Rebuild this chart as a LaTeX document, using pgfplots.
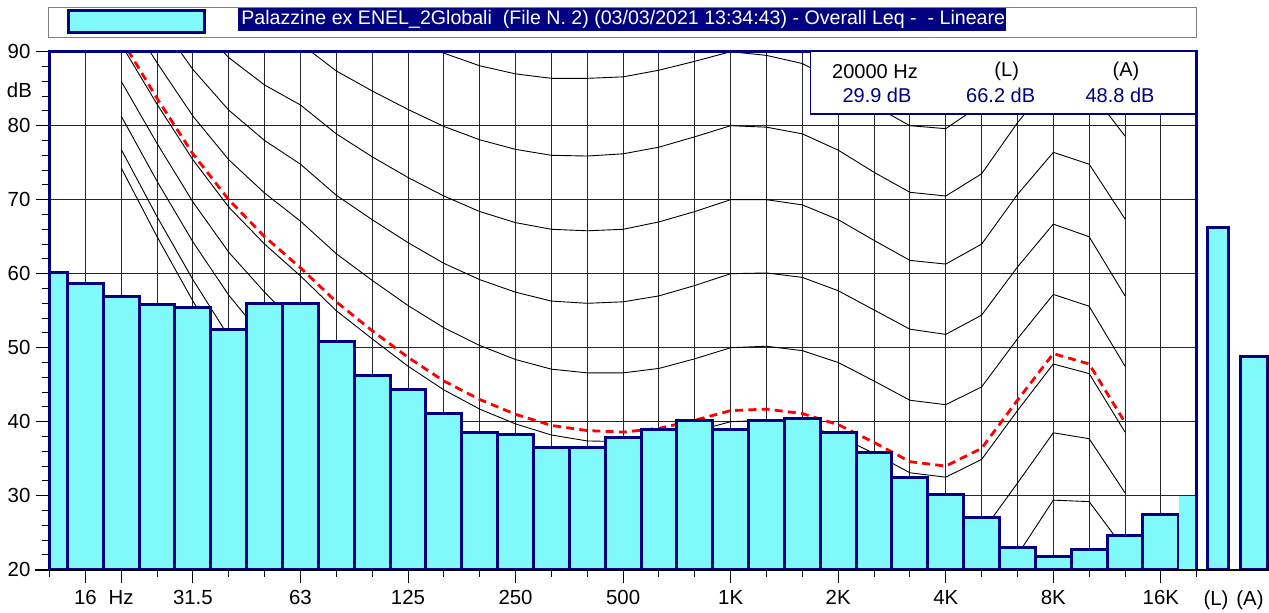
\documentclass[border=0pt]{standalone}
\usepackage{fontspec}
\setmainfont{Liberation Sans}
\usepackage{pgfplots}
\usepackage{pgfplotstable}
\pgfplotsset{compat=1.18}
\definecolor{navy}{RGB}{0,0,128}
\definecolor{barfill}{RGB}{128,250,250}
\definecolor{dashred}{RGB}{255,0,0}
\pgfplotstableread{
i maf p10 p20 p30 p40 red p50 p60 p70 p80 p90
2 74.3 76.8 81.3 86.0 91.0 91.7 96.2 101.7 107.6 113.7 120.3
3 65.0 67.7 72.5 77.6 82.9 83.7 88.5 94.4 100.7 107.3 114.4
4 56.3 59.2 64.3 69.7 75.4 76.2 81.3 87.6 94.3 101.3 108.7
5 48.4 51.5 57.1 62.9 69.0 70.0 75.4 82.1 89.2 96.6 104.4
6 41.7 45.1 51.2 57.5 64.0 65.0 70.9 78.0 85.5 93.3 101.5
7 35.5 39.2 45.8 52.6 59.7 60.8 67.1 74.8 82.8 91.1 99.8
8 29.8 33.7 40.5 47.7 55.0 56.2 62.7 70.6 78.9 87.4 96.3
9 25.1 29.1 36.2 43.5 51.2 52.3 59.1 67.3 75.8 84.7 94.0
10 20.7 24.8 32.1 39.7 47.5 48.7 55.7 64.2 73.0 82.2 91.8
11 16.8 21.0 28.5 36.2 44.3 45.5 52.7 61.4 70.5 79.9 89.8
12 13.8 18.1 25.7 33.5 41.7 43.0 50.3 59.2 68.4 78.1 88.1
13 11.2 15.6 23.3 31.4 39.7 41.0 48.4 57.5 66.9 76.8 87.0
14 8.9 13.4 21.4 29.6 38.2 39.5 47.1 56.3 66.0 76.0 86.4
15 7.2 11.9 20.1 28.6 37.4 38.8 46.6 56.0 65.8 75.9 86.4
16 6.0 10.9 19.4 28.2 37.3 38.6 46.6 56.2 66.0 76.2 86.6
17 5.0 10.1 19.1 28.3 37.7 39.1 47.2 57.0 67.0 77.1 87.5
18 4.4 9.9 19.4 29.0 38.7 40.2 48.5 58.4 68.4 78.5 88.7
19 4.2 10.0 20.0 30.0 40.0 41.5 50.0 60.0 70.0 80.0 90.0
20 3.7 9.7 19.9 30.1 40.2 41.7 50.2 60.1 70.0 79.8 89.5
21 2.6 8.7 19.2 29.5 39.6 41.1 49.6 59.5 69.3 78.9 88.4
22 1.0 7.2 17.7 28.0 38.1 39.6 48.0 57.7 67.3 76.7 85.9
23 -1.2 5.0 15.4 25.7 35.7 37.2 45.5 55.1 64.5 73.7 82.7
24 -3.6 2.6 13.0 23.2 33.1 34.6 42.9 52.5 61.8 71.0 80.0
25 -3.9 2.2 12.5 22.6 32.5 34.0 42.3 51.8 61.3 70.5 79.6
26 -1.1 4.8 15.0 25.0 34.9 36.4 44.7 54.4 64.0 73.5 82.9
27 6.6 12.2 22.0 31.7 41.5 42.9 51.2 60.9 70.7 80.4 90.1
28 15.3 20.4 29.4 38.5 47.8 49.2 57.2 66.7 76.4 86.3 96.4
29 16.4 21.0 29.2 37.7 46.5 47.8 55.6 65.0 74.8 84.9 95.5
30 11.6 15.5 22.7 30.4 38.6 39.9 47.5 57.0 67.4 78.6 90.9
}\iso
\pgfplotstableread{
i v
0 60.1
1 58.7
2 56.9
3 55.9
4 55.4
5 52.5
6 56.0
7 56.0
8 50.8
9 46.3
10 44.3
11 41.1
12 38.6
13 38.3
14 36.5
15 36.5
16 37.9
17 38.9
18 40.1
19 39.0
20 40.1
21 40.5
22 38.6
23 35.9
24 32.5
25 30.1
26 27.1
27 23.0
28 21.8
29 22.7
30 24.6
31 27.4
}\bars
\begin{document}
\begin{tikzpicture}
\fill[white] (0,0) rectangle (634.5pt,306pt);
\path[use as bounding box] (0,0) rectangle (634.5pt,306pt);
\begin{axis}[
  name=main,
  at={(24.75pt,21.15pt)}, anchor=south west,
  scale only axis, width=573.6pt, height=259pt,
  xmin=0, xmax=32, ymin=20, ymax=90,
  axis line style={draw=none},
  xtick={1,2,4,7,10,13,16,19,22,25,28,31},
  xticklabels={16,Hz,31.5,63,125,250,500,1K,2K,4K,8K,16K},
  minor xtick={0,...,32},
  ytick={20,30,...,90},
  yticklabels={20,30,40,50,60,70,80,90},
  minor ytick={22,24,...,88},
  xmajorgrids, xminorgrids, ymajorgrids,
  major grid style={black!85, line width=0.5pt},
  minor grid style={black!85, line width=0.5pt},
  tick align=outside, xtick pos=left, ytick pos=left,
  major tick length=6.8pt, minor tick length=3.6pt,
  tick style={black, line width=0.5pt},
  tick label style={font=\fontsize{10.2}{12}\selectfont, black},
  yticklabel style={xshift=0.8pt},
  /pgf/number format/assume math mode=true,
]
\foreach \c in {maf,p10,p20,p30,p40,p50,p60,p70,p80,p90}{
  \addplot[black, line width=0.45pt] table[x=i, y=\c] {\iso};
}
\addplot[dashred, line width=1.4pt, dash pattern=on 4pt off 2.6pt] table[x=i, y=red] {\iso};
\addplot[ybar, bar width=1, bar shift=0pt, fill=barfill, draw=navy, line width=1.5pt] table[x=i, y=v] {\bars};
\addplot[ybar, bar width=1, bar shift=0pt, fill=barfill, draw=none] coordinates {(32,29.9)};
\end{axis}
\begin{axis}[
  at={(598.5pt,21.15pt)}, anchor=south west,
  scale only axis, width=36pt, height=259pt,
  xmin=1197, xmax=1269, ymin=20, ymax=90,
  axis line style={draw=none}, ytick=\empty,
  xtick={1216,1250}, xticklabels={(L),(A)},
  major tick length=0pt, xtick pos=left,
  tick label style={font=\fontsize{10.2}{12}\selectfont, black},
  xticklabel style={yshift=-6.8pt},
]
\addplot[ybar, bar width=21, bar shift=0pt, fill=barfill, draw=navy, line width=1.5pt] coordinates {(1218,66.2)};
\addplot[ybar, bar width=27, bar shift=0pt, fill=barfill, draw=navy, line width=1.5pt] coordinates {(1254,48.8)};
\end{axis}
% frame
\draw[navy, line width=1.3pt] (main.south west) -- (main.north west) -- (main.north east) -- (main.south east);
\draw[black, line width=1.2pt] (17.5pt,21.15pt) -- (634.5pt,21.15pt);
\begin{scope}[x=0.5pt, y=-0.5pt, yshift=306pt]
\draw[gray, line width=0.7pt] (48.5,7.5) rectangle (1196.5,37.5);
\draw[navy, line width=1.5pt, fill=barfill] (68,11) rectangle (204,33);
\fill[navy] (238,8) rectangle (1006,31);
\node[anchor=west, text=white, inner sep=0pt, font=\fontsize{9.8}{11}\selectfont] at (241,19.5) {Palazzine ex ENEL\_2Globali\ \ (File N.~2) (03/03/2021 13:34:43) - Overall Leq -\ \ - Lineare};
\draw[navy, line width=0.75pt, fill=white] (810.7,51.7) rectangle (1196,114);
\node[font=\fontsize{10}{12}\selectfont] at (875,71.7) {20000 Hz};
\node[font=\fontsize{10}{12}\selectfont, text=navy] at (877,95) {29.9 dB};
\node[font=\fontsize{10}{12}\selectfont] at (1006.7,71.7) {(L)};
\node[font=\fontsize{10}{12}\selectfont, text=navy] at (1000.7,95) {66.2 dB};
\node[font=\fontsize{10}{12}\selectfont] at (1126,71.7) {(A)};
\node[font=\fontsize{10}{12}\selectfont, text=navy] at (1120,95) {48.8 dB};
\node[anchor=east, inner sep=0pt, font=\fontsize{10.2}{12}\selectfont] at (32.3,90) {dB};
\end{scope}
\end{tikzpicture}
\end{document}
